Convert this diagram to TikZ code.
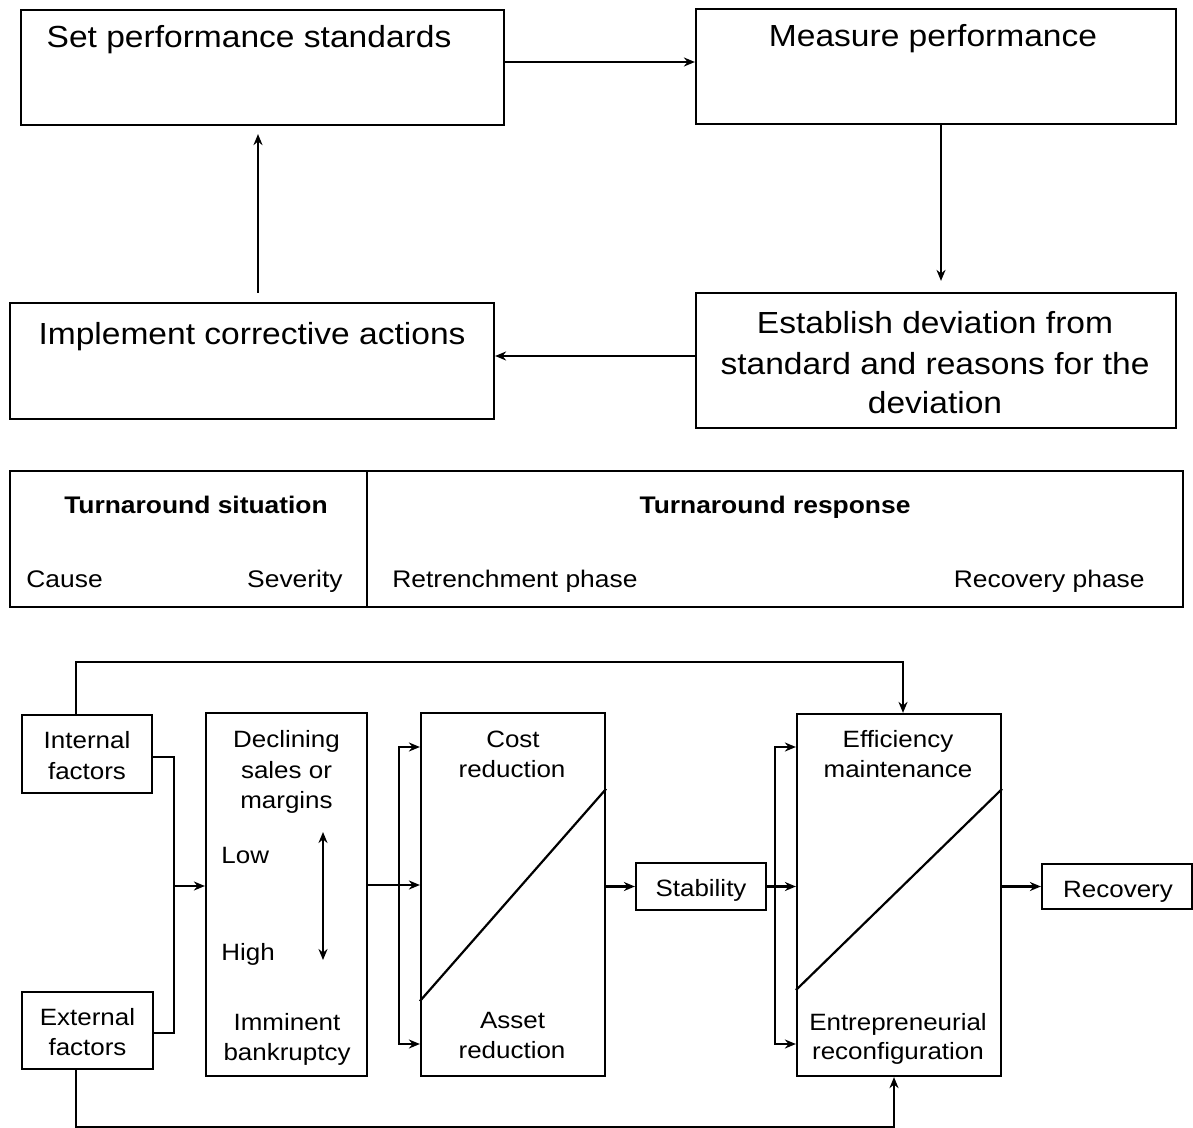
\documentclass[tikz,border=0pt]{standalone}
\usepackage{fontspec}
\newfontfamily\dfont[FakeStretch=1.1]{Liberation Sans}
\usetikzlibrary{arrows.meta}
\newcommand\boxnode[5]{\node[box, minimum width={(#4-#2)*0.5pt}, minimum height={(#5-#3)*0.5pt}] (#1) at ({(#2+#4)/2},{(#3+#5)/2}) {};}
\begin{document}
\begin{tikzpicture}[x=0.5pt,y=-0.5pt,
  box/.style={draw, line width=1.1pt, inner sep=0pt},
  conn/.style={line width=1.1pt},
  arr/.style={line width=1.1pt, -{Stealth[length=5.5pt,width=4.5pt]}},
  big/.style={font=\dfont\fontsize{15.25}{18}\selectfont, inner sep=0pt, anchor=base},
  sm/.style={font=\dfont\fontsize{11.8}{14}\selectfont, inner sep=0pt, anchor=base},
  tb/.style={font=\dfont\fontsize{12}{14}\selectfont, inner sep=0pt, anchor=base}]
\useasboundingbox (0,0) rectangle (1193,1128);
% ---------- top cycle ----------
\boxnode{set}{21}{10}{504}{125}
\boxnode{meas}{696}{9}{1176}{124}
\boxnode{impl}{10}{303}{494}{419}
\boxnode{est}{696}{293}{1176}{428}
\node[big] (tset) at (249,48) {Set performance standards};
\node[big] (tmeas) at (933,47) {Measure performance};
\node[big] (timpl) at (252,344) {Implement corrective actions};
\node[big] (test1) at (935,334) {Establish deviation from};
\node[big] (test2) at (935,374) {standard and reasons for the};
\node[big] (test3) at (935,414) {deviation};
\draw[arr] (set.east |- 0,62) -- (meas.west |- 0,62);
\draw[arr, shorten >=5.5pt] (941,0 |- meas.south) -- (941,0 |- est.north);
\draw[arr] (est.west |- 0,356) -- (impl.east |- 0,356);
\draw[arr, shorten <=4.5pt, shorten >=4pt] (258,0 |- impl.north) -- (258,0 |- set.south);
% ---------- table ----------
\boxnode{sit}{10}{471}{367}{607}
\boxnode{resp}{367}{471}{1183}{607}
\node[tb, font=\dfont\bfseries\fontsize{12}{14}\selectfont] (hsit) at (196,513) {Turnaround situation};
\node[tb, font=\dfont\bfseries\fontsize{12}{14}\selectfont] (hresp) at (775,513) {Turnaround response};
\node[tb, anchor=base west] (cause) at (26,587) {Cause};
\node[tb, anchor=base east] (sev) at (343,587) {Severity};
\node[tb, anchor=base west] (retr) at (392,587) {Retrenchment phase};
\node[tb, anchor=base east] (recph) at (1145,587) {Recovery phase};
% ---------- bottom model ----------
\boxnode{int}{22}{715}{152}{793}
\boxnode{ext}{22}{992}{153}{1069}
\boxnode{decl}{206}{713}{367}{1076}
\boxnode{cost}{421}{713}{605}{1076}
\boxnode{stab}{636}{863}{766}{910}
\boxnode{eff}{797}{714}{1001}{1076}
\boxnode{rec}{1042}{864}{1192}{909}
\node[sm] (ti1) at (87,748) {Internal};
\node[sm] (ti2) at (87,779) {factors};
\node[sm] (te1) at (87.5,1025) {External};
\node[sm] (te2) at (87.5,1055) {factors};
\node[sm] (td1) at (286.5,747) {Declining};
\node[sm] (td2) at (286.5,778) {sales or};
\node[sm] (td3) at (286.5,808) {margins};
\node[sm, anchor=base west] (tlow) at (221,863) {Low};
\node[sm, anchor=base west] (thigh) at (221,960) {High};
\node[sm] (td4) at (287,1030) {Imminent};
\node[sm] (td5) at (287,1060) {bankruptcy};
\node[sm] (tc1) at (513,747) {Cost};
\node[sm] (tc2) at (512,777) {reduction};
\node[sm] (tc3) at (512.5,1028) {Asset};
\node[sm] (tc4) at (512,1058) {reduction};
\node[sm] (ts) at (701,896) {Stability};
\node[sm] (tf1) at (898,747) {Efficiency};
\node[sm] (tf2) at (898,777) {maintenance};
\node[sm] (tf3) at (898,1030) {Entrepreneurial};
\node[sm] (tf4) at (898,1059) {reconfiguration};
\node[sm] (tr) at (1118,897) {Recovery};
% diagonals
\draw[conn] ([yshift=38pt]cost.south west) -- ([yshift=-38.5pt]cost.north east);
\draw[conn] ([yshift=43.5pt]eff.south west) -- ([yshift=-38pt]eff.north east);
% severity double arrow
\coordinate (dtop) at (323,832);
\coordinate (dbot) at (323,960);
\draw[line width=1.1pt, {Stealth[length=5.5pt,width=4.5pt]}-{Stealth[length=5.5pt,width=4.5pt]}] (dtop) -- (dbot);
% causes into declining
\coordinate (jn) at (174,886);
\draw[conn] (int.east |- 0,757) -| (174,1033) -- (ext.east |- 0,1033);
\draw[arr] (jn) -- (decl.west |- jn);
% declining to retrenchment
\coordinate (b1) at (399,885);
\draw[arr] (decl.east |- b1) -- (cost.west |- b1);
\draw[arr] (b1) |- (cost.west |- 0,747);
\draw[arr] (b1) |- (cost.west |- 0,1044);
% retrenchment to stability
\draw[arr] (cost.east |- stab.west) -- (stab.west);
% stability to recovery phase
\coordinate (b2) at (775,0 |- stab.east);
\draw[arr] (stab.east) -- (eff.west |- stab.east);
\draw[arr] (b2) |- (eff.west |- 0,747);
\draw[arr] (b2) |- (eff.west |- 0,1044);
% to recovery
\draw[arr] (eff.east |- rec.west) -- (rec.west);
% feedback lines
\coordinate (tl) at (76,662);
\draw[arr] (int.north -| tl) -- (tl) -| (903,0 |- eff.north);
\coordinate (bl) at (76,1127);
\draw[arr] (ext.south -| bl) -- (bl) -| (894,0 |- eff.south);
\end{tikzpicture}
\end{document}
